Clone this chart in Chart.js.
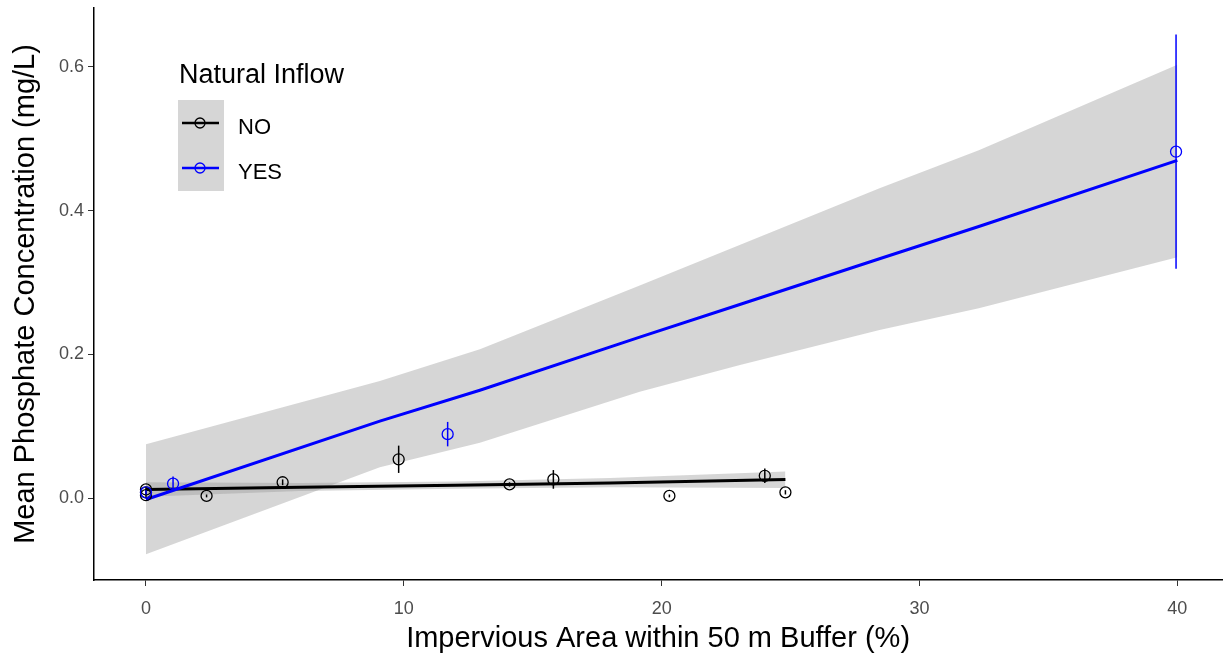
<!DOCTYPE html>
<html>
<head>
<meta charset="utf-8">
<script src="https://cdn.jsdelivr.net/npm/chart.js@4.4.1/dist/chart.umd.min.js"></script>
<style>
  body { margin: 0; background: #fff; overflow: hidden; }
  #wrap { width: 1223px; height: 656px; overflow: hidden; }
  #myChart { display: block; }
</style>
</head>
<body>
<div id="wrap"><canvas id="myChart" width="1229" height="656"></canvas></div>
<script>
// observed means (NO natural inflow)
const noX = [0, 0, 0, 2.35, 5.3, 9.8, 14.1, 15.8, 20.3, 24.0, 24.8];
const noY = [0.004, 0.008, 0.012, 0.003, 0.022, 0.054, 0.019, 0.026, 0.003, 0.031, 0.008];
const noErr = [0.003, 0.003, 0.003, 0.002, 0.004, 0.019, 0.003, 0.013, 0.002, 0.010, 0.003];

// observed means (YES natural inflow)
const yesX = [0, 1.05, 11.7, 39.95];
const yesY = [0.008, 0.020, 0.089, 0.482];
const yesErr = [0.003, 0.010, 0.017, 0.163];

// fitted lines + confidence ribbons
const yesFitX = [0, 9.07, 12.95, 19.15, 23.0, 28.45, 32.3, 40];
const yesFitY = [-0.002, 0.107, 0.150, 0.224, 0.269, 0.333, 0.378, 0.470];
const yesLow = [-0.078, 0.043, 0.077, 0.148, 0.185, 0.234, 0.264, 0.335];
const yesHigh = [0.075, 0.163, 0.207, 0.296, 0.352, 0.431, 0.484, 0.603];

const noFitX = [0, 6, 12, 18, 24.8];
const noFitY = [0.012, 0.015, 0.018, 0.021, 0.026];
const noLow = [0.002, 0.010, 0.013, 0.015, 0.014];
const noHigh = [0.022, 0.021, 0.023, 0.028, 0.037];

const xTicks = [0, 10, 20, 30, 40];
const yTicks = [0, 0.2, 0.4, 0.6];

const FONT = "'Liberation Sans', Arial, sans-serif";
const RIBBON = 'rgba(153,153,153,0.4)';

function pts(xs, ys) {
  return xs.map((x, i) => ({ x: x, y: ys[i] }));
}

const errorBars = {
  id: 'errorBars',
  afterDatasetsDraw(chart) {
    const ctx = chart.ctx;
    const xs = chart.scales.x, ys = chart.scales.y;
    chart.data.datasets.forEach(function (ds) {
      if (!ds.err) return;
      ctx.save();
      ctx.strokeStyle = ds.borderColor;
      ctx.lineWidth = 1.5;
      ds.data.forEach(function (p, i) {
        const px = xs.getPixelForValue(p.x);
        ctx.beginPath();
        ctx.moveTo(px, ys.getPixelForValue(p.y - ds.err[i]));
        ctx.lineTo(px, ys.getPixelForValue(p.y + ds.err[i]));
        ctx.stroke();
      });
      ctx.restore();
    });
  }
};

const legendBox = {
  id: 'legendBox',
  afterDraw(chart) {
    const ctx = chart.ctx;
    ctx.save();
    ctx.fillStyle = '#000';
    ctx.font = '27px ' + FONT;
    ctx.textBaseline = 'alphabetic';
    ctx.fillText('Natural Inflow', 179, 83);
    ctx.fillStyle = RIBBON;
    ctx.fillRect(178, 100, 46, 91);
    const keys = [['NO', '#000000', 123], ['YES', '#0000FF', 168]];
    keys.forEach(function (k) {
      ctx.strokeStyle = k[1];
      ctx.lineWidth = 2.5;
      ctx.beginPath();
      ctx.moveTo(182, k[2]);
      ctx.lineTo(219, k[2]);
      ctx.stroke();
      ctx.lineWidth = 1.3;
      ctx.beginPath();
      ctx.arc(200, k[2], 5, 0, Math.PI * 2);
      ctx.stroke();
      ctx.fillStyle = '#000';
      ctx.font = '22px ' + FONT;
      ctx.fillText(k[0], 238, k[2] + 11);
    });
    ctx.restore();
  }
};

function noPad(scale) {
  scale.paddingLeft = 0;
  scale.paddingRight = 0;
  scale.paddingTop = 0;
  scale.paddingBottom = 0;
}

const ctx = document.getElementById('myChart').getContext('2d');

const chart = new Chart(ctx, {
  type: 'scatter',
  data: {
    datasets: [
      {
        label: 'YES low', data: pts(yesFitX, yesLow), showLine: true,
        borderWidth: 0, pointRadius: 0, fill: false, order: 5,
      },
      {
        label: 'YES high', data: pts(yesFitX, yesHigh), showLine: true,
        borderWidth: 0, pointRadius: 0, fill: '-1', backgroundColor: RIBBON, order: 5,
      },
      {
        label: 'NO low', data: pts(noFitX, noLow), showLine: true,
        borderWidth: 0, pointRadius: 0, fill: false, order: 4,
      },
      {
        label: 'NO high', data: pts(noFitX, noHigh), showLine: true,
        borderWidth: 0, pointRadius: 0, fill: '-1', backgroundColor: RIBBON, order: 4,
      },
      {
        label: 'NO fit', data: pts(noFitX, noFitY), showLine: true,
        borderColor: '#000000', borderWidth: 3, pointRadius: 0, order: 3,
      },
      {
        label: 'YES fit', data: pts(yesFitX, yesFitY), showLine: true,
        borderColor: '#0000FF', borderWidth: 3, pointRadius: 0, order: 2,
      },
      {
        label: 'NO', data: pts(noX, noY), err: noErr,
        borderColor: '#000000', backgroundColor: 'rgba(0,0,0,0)',
        pointRadius: 5.5, borderWidth: 1.3, order: 1,
      },
      {
        label: 'YES', data: pts(yesX, yesY), err: yesErr,
        borderColor: '#0000FF', backgroundColor: 'rgba(0,0,0,0)',
        pointRadius: 5.5, borderWidth: 1.3, order: 0,
      },
    ]
  },
  options: {
    responsive: false,
    animation: false,
    layout: { padding: { top: 8, right: 0, left: 0, bottom: 0 } },
    plugins: {
      legend: { display: false },
      tooltip: { enabled: false },
    },
    scales: {
      x: {
        type: 'linear',
        min: -2.016,
        max: 41.74,
        afterBuildTicks: function (scale) {
          scale.ticks = xTicks.map(v => ({ value: v }));
        },
        afterFit: function (scale) { scale.height = 76; noPad(scale); },
        grid: { drawOnChartArea: false, drawTicks: true, tickLength: 6, color: '#333333', lineWidth: 1 },
        border: { color: '#000000', width: 1.5 },
        ticks: { color: '#4D4D4D', font: { size: 18, family: FONT }, padding: 12, maxRotation: 0 },
        title: {
          display: true, text: 'Impervious Area within 50 m Buffer (%)',
          color: '#000000', font: { size: 29, family: FONT }, padding: { top: 0, bottom: 0 },
        },
      },
      y: {
        type: 'linear',
        min: -0.114,
        max: 0.682,
        afterBuildTicks: function (scale) {
          scale.ticks = yTicks.map(v => ({ value: v }));
        },
        afterFit: function (scale) { scale.width = 94; noPad(scale); },
        grid: { drawOnChartArea: false, drawTicks: true, tickLength: 6, color: '#333333', lineWidth: 1 },
        border: { color: '#000000', width: 1.5 },
        ticks: {
          color: '#4D4D4D', font: { size: 18, family: FONT }, padding: 4,
          callback: function (v) { return v.toFixed(1); },
        },
        title: {
          display: true, text: 'Mean Phosphate Concentration (mg/L)',
          color: '#000000', font: { size: 29, family: FONT }, padding: { top: 9, bottom: 0 },
        },
      },
    },
  },
  plugins: [errorBars, legendBox],
});
</script>
</body>
</html>
